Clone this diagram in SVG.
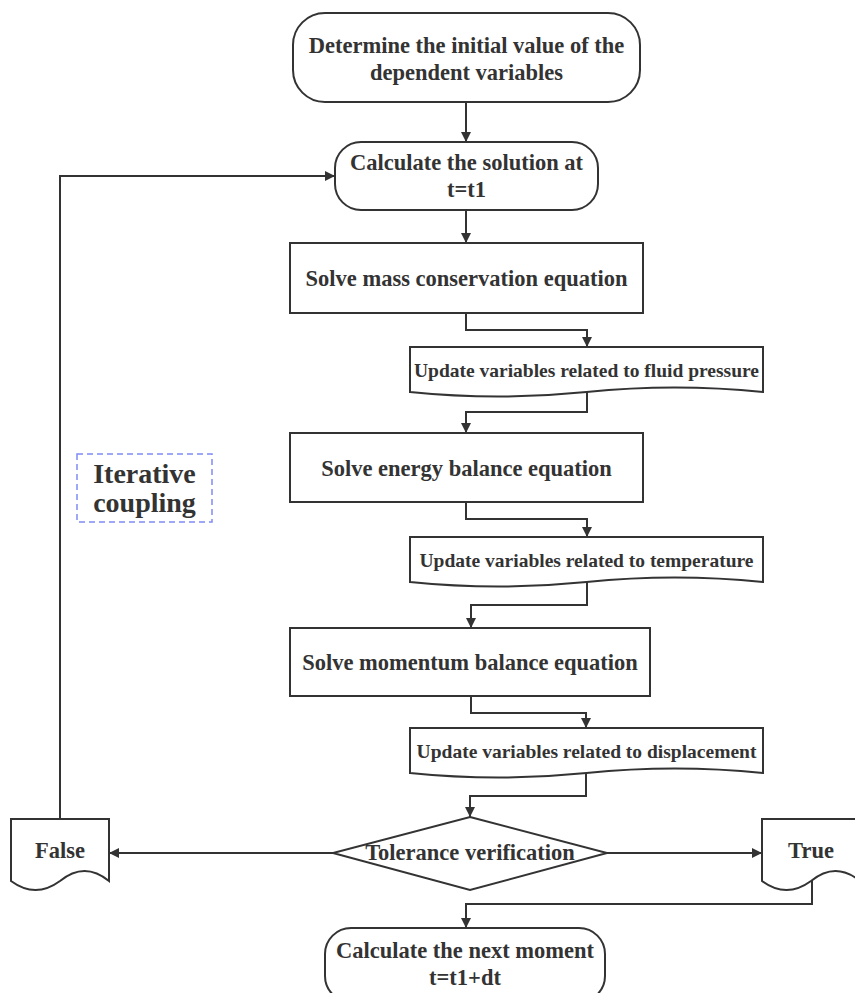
<svg xmlns="http://www.w3.org/2000/svg" width="855" height="993" viewBox="0 0 855 993">
<defs>
<marker id="arr" viewBox="0 0 10 10" refX="10" refY="5" markerWidth="10" markerHeight="10" markerUnits="userSpaceOnUse" orient="auto">
<path d="M0,0 L10,5 L0,10 Z" fill="#333333"/>
</marker>
</defs>
<style>
.shape{fill:#ffffff;stroke:#333333;stroke-width:2}
.conn{fill:none;stroke:#333333;stroke-width:2;marker-end:url(#arr)}
text{font-family:"Liberation Serif","Times New Roman",serif;font-weight:bold;fill:#333333;text-anchor:middle}
.big{font-size:22.5px}
.doc{font-size:19.5px}
.lbl{font-size:28px}
</style>
<rect width="855" height="993" fill="#ffffff"/>
<g id="connectors">
<path class="conn" d="M466,102 V142"/>
<path class="conn" d="M466,210 V243"/>
<path class="conn" d="M466,313 V330 H587 V347"/>
<path class="conn" d="M587,392 V412 H466 V433"/>
<path class="conn" d="M466,502 V519 H587 V537"/>
<path class="conn" d="M587,582 V605 H471 V628"/>
<path class="conn" d="M471,696 V713 H586 V728"/>
<path class="conn" d="M586,773 V796 H470 V817"/>
<path class="conn" d="M333,853 H109"/>
<path class="conn" d="M607,853 H762"/>
<path class="conn" d="M60,819 V176 H335"/>
<path class="conn" d="M812,879 V904 H466 V928"/>
</g>
<g id="n-init">
<rect class="shape" x="293" y="13" width="347" height="89" rx="32" ry="32"/>
<text class="big" x="466.5" y="53">Determine the initial value of the</text>
<text class="big" x="466.5" y="80">dependent variables</text>
</g>
<g id="n-solution">
<rect class="shape" x="335" y="142" width="263" height="68" rx="26" ry="26"/>
<text class="big" x="466.5" y="170">Calculate the solution at</text>
<text class="big" x="466.5" y="197">t=t1</text>
</g>
<g id="n-mass">
<rect class="shape" x="290" y="243" width="353" height="70"/>
<text class="big" x="466.5" y="286">Solve mass conservation equation</text>
</g>
<g id="n-pressure">
<path class="shape" d="M410,347 H763 V392 Q674.75,383 586.5,392 Q498.25,401 410,392 Z"/>
<text class="doc" x="586.5" y="377">Update variables related to fluid pressure</text>
</g>
<g id="n-energy">
<rect class="shape" x="290" y="433" width="353" height="69"/>
<text class="big" x="466.5" y="476">Solve energy balance equation</text>
</g>
<g id="n-temperature">
<path class="shape" d="M410,537 H763 V582 Q674.75,573 586.5,582 Q498.25,591 410,582 Z"/>
<text class="doc" x="586.5" y="567">Update variables related to temperature</text>
</g>
<g id="n-momentum">
<rect class="shape" x="290" y="628" width="360" height="68"/>
<text class="big" x="470" y="670">Solve momentum balance equation</text>
</g>
<g id="n-displacement">
<path class="shape" d="M410,728 H763 V773 Q674.75,764 586.5,773 Q498.25,782 410,773 Z"/>
<text class="doc" x="586.5" y="758">Update variables related to displacement</text>
</g>
<g id="n-tolerance">
<path class="shape" d="M470,817 L607,853 L470,890 L333,853 Z"/>
<text class="big" x="470" y="860">Tolerance verification</text>
</g>
<g id="n-false">
<path class="shape" d="M11,819 H109 V881 Q84.5,861 60,881 Q35.5,899 11,881 Z"/>
<text class="big" x="60" y="858">False</text>
</g>
<g id="n-true">
<path class="shape" d="M762,819 H860 V881 Q835.5,861 811,881 Q786.5,899 762,881 Z"/>
<text class="big" x="811" y="858">True</text>
</g>
<g id="n-next">
<rect class="shape" x="325" y="928" width="280" height="74" rx="26" ry="26"/>
<text class="big" x="465" y="958">Calculate the next moment</text>
<text class="big" x="465" y="985">t=t1+dt</text>
</g>
<g id="n-iterative">
<rect x="77" y="454" width="135" height="68" fill="none" stroke="#7f8cf5" stroke-width="1.5" stroke-dasharray="6 4"/>
<text class="lbl" x="144.5" y="483">Iterative</text>
<text class="lbl" x="144.5" y="512">coupling</text>
</g>
</svg>
